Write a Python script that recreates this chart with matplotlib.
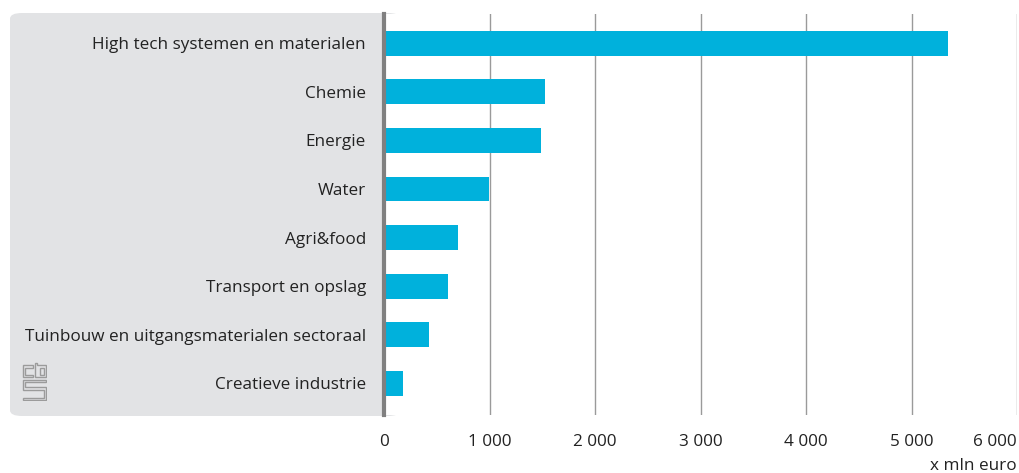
import numpy as np
import matplotlib
matplotlib.use('Agg')
import matplotlib.pyplot as plt
import matplotlib.ticker as ticker
from matplotlib.patches import FancyBboxPatch, Polygon, Rectangle

categories = ['High tech systemen en materialen', 'Chemie', 'Energie', 'Water',
              'Agri&food', 'Transport en opslag',
              'Tuinbouw en uitgangsmaterialen sectoraal', 'Creatieve industrie']
values = [5350, 1525, 1485, 995, 705, 605, 430, 180]
xticks = [0, 1000, 2000, 3000, 4000, 5000, 6000]

W, H = 1019, 473
fontsize = 12.3
textcol = '#222222'
plt.rcParams['font.family'] = ['Open Sans', 'DejaVu Sans']

fig = plt.figure(figsize=(W / 100, H / 100), dpi=100)

# grey label panel with rounded corners (right part hidden under the axes)
panel = FancyBboxPatch((10 / W, 1 - 416 / H), 390 / W, 403 / H,
                       boxstyle='round,pad=0,rounding_size=0.012',
                       transform=fig.transFigure, facecolor='#e2e3e5',
                       edgecolor='none', zorder=0)
fig.patches.append(panel)

ax = fig.add_axes([384 / W, 1 - 415 / H, (1017 - 384) / W, (415 - 14) / H], zorder=1)
ax.set_facecolor('white')

y = np.arange(len(categories))
ax.barh(y, values, height=0.51, color='#00b1dc', zorder=3)
ax.set_ylim(7.65, -0.6)
ax.set_xlim(0, 6000)

ax.set_yticks(y)
ax.set_yticklabels(categories, fontsize=fontsize, color=textcol)
ax.set_xticks(xticks)
ax.xaxis.set_major_formatter(ticker.FuncFormatter(lambda v, p: f'{int(v):,}'.replace(',', ' ')))
ax.tick_params(axis='x', length=0, pad=14, labelsize=fontsize, labelcolor=textcol)
ax.tick_params(axis='y', length=0, pad=13)
# last tick label kept inside the figure
ax.get_xticklabels()[-1].set_horizontalalignment('right')

ax.grid(axis='x', color='#9a9a9a', lw=1.0, zorder=1)
for s in ['top', 'right', 'bottom']:
    ax.spines[s].set_visible(False)
ax.spines['left'].set_color('#808080')
ax.spines['left'].set_linewidth(3)
ax.spines['left'].set_zorder(4)

fig.text(1017 / W, 1 - 466 / H, 'x mln euro', ha='right', va='center',
         fontsize=fontsize, color=textcol)

# cbs logo
lg = fig.add_axes([22 / W, 1 - 401 / H, 25 / W, 39 / H], zorder=2)
lg.set_xlim(-0.3, 10.3)
lg.set_ylim(-0.3, 14.3)
lg.axis('off')
logo_kw = dict(fill=False, edgecolor='#9b9b9b', lw=1.0)
lg.add_patch(Polygon([(0, 8.5), (4.3, 8.5), (4.3, 9.5), (1.0, 9.5), (1.0, 12.0),
                      (4.3, 12.0), (4.3, 13), (0, 13)], closed=True, **logo_kw))
lg.add_patch(Polygon([(5.2, 14), (6.2, 14), (6.2, 13), (10, 13), (10, 8.5), (5.2, 8.5)],
                     closed=True, **logo_kw))
lg.add_patch(Rectangle((7.2, 9.6), 2.0, 2.4, **logo_kw))
lg.add_patch(Polygon([(0, 7.7), (10, 7.7), (10, 6.7), (1.0, 6.7), (1.0, 4.9), (10, 4.9),
                      (10, 0), (0, 0), (0, 1.0), (9.0, 1.0), (9.0, 3.9), (0, 3.9)],
                     closed=True, **logo_kw))

fig.savefig('out.png', dpi=100)
plt.close()
